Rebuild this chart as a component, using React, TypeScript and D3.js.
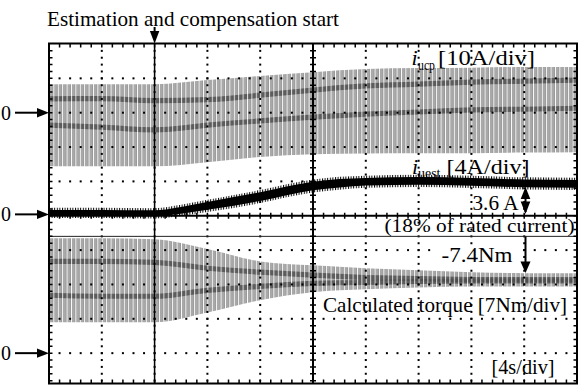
import React from 'react';
import * as d3 from 'd3';

const W = 587;
const H = 386;

// time axis: 4 s/div, 10 divisions
const times = [0, 4, 8, 12, 16, 20, 24, 28, 32, 36, 40];
const startTime = 8;

// i_ucp [10A/div] (A)
const ucpUpper = [8.3, 8.3, 8.3, 9.5, 10.7, 11.8, 12.7, 13.0, 13.1, 13.3, 13.3];
const ucpLower = [-15.6, -15.6, -15.6, -14.4, -12.9, -12.1, -11.9, -11.8, -11.8, -11.6, -11.5];
const ucpBandA = [4.0, 4.1, 3.5, 3.8, 5.1, 6.6, 7.8, 8.3, 8.9, 9.2, 9.5];
const ucpBandB = [-3.6, -4.2, -5.0, -3.6, -2.4, -1.3, -0.4, 0.2, 0.8, 1.0, 1.3];

// i_uest [4A/div] (A)
const uestTimes = [0, 4, 8, 10, 12, 14, 16, 18, 20, 22, 24, 28, 32, 36, 40];
const uestCenter = [0.17, 0.17, 0.12, 0.47, 0.99, 1.51, 2.07, 2.74, 3.3, 3.62, 3.8, 3.9, 3.78, 3.61, 3.55];
const uestHalf = [0.35, 0.35, 0.35, 0.4, 0.45, 0.5, 0.5, 0.5, 0.5, 0.5, 0.45, 0.45, 0.45, 0.45, 0.45];

// calculated torque [7Nm/div] (Nm)
const tqUpper = [23.4, 23.4, 23.2, 21.2, 18.7, 17.9, 17.3, 16.9, 16.5, 16.3, 16.3];
const tqLower = [6.3, 6.3, 6.3, 8.3, 10.8, 12.4, 13.0, 13.4, 13.6, 13.6, 13.6];
const tqBandA = [18.7, 18.7, 18.5, 17.3, 16.5, 15.9, 15.4, 15.2, 15.0, 15.0, 15.0];
const tqBandB = [11.8, 11.6, 11.6, 12.8, 13.6, 14.2, 14.4, 14.6, 14.7, 14.7, 14.7];

// trace zero levels (in divisions from screen centre) and scale per division
const traceZeros = [3, 0.04, -4];
const tracePerDiv = [10, 4, 7];

const FONT = "'Liberation Serif', 'Times New Roman', serif";
const FS = 21;

export default function App() {
  const left = 49, right = 577, top = 43.5, bottom = 383.5;
  const x = d3.scaleLinear().domain([0, 40]).range([left, right]);
  const div = d3.scaleLinear().domain([-5, 5]).range([387.5, 44]);
  const ty = (i: number) => (v: number) => div(traceZeros[i] + v / tracePerDiv[i]);

  const curve = d3.curveMonotoneX;
  const bandArea = (yf: (v: number) => number, ts: number[], up: number[], lo: number[]) =>
    d3.area<number>().curve(curve).x((_, k) => x(ts[k])).y0((_, k) => yf(lo[k])).y1((_, k) => yf(up[k]))(ts) || '';
  const ribbon = (yf: (v: number) => number, ts: number[], c: number[], halfPx: number) =>
    d3.area<number>().curve(curve).x((_, k) => x(ts[k])).y0((_, k) => yf(c[k]) + halfPx).y1((_, k) => yf(c[k]) - halfPx)(ts) || '';

  const y1 = ty(0), y2 = ty(1), y3 = ty(2);

  const uestCore = d3.area<number>().curve(curve)
    .x((_, k) => x(uestTimes[k]))
    .y0((_, k) => y2(uestCenter[k] - uestHalf[k]))
    .y1((_, k) => y2(uestCenter[k] + uestHalf[k]))(uestTimes) || '';
  const uestFuzz = d3.area<number>().curve(curve)
    .x((_, k) => x(uestTimes[k]))
    .y0((_, k) => y2(uestCenter[k] - uestHalf[k]) + 2.2)
    .y1((_, k) => y2(uestCenter[k] + uestHalf[k]) - 2.2)(uestTimes) || '';

  const subX = d3.range(0, 40.001, 0.8);
  const subY = d3.range(-5, 5.001, 0.2);
  const gridT = d3.range(4, 40, 4).filter((t) => t !== 20);
  const gridD = d3.range(-4, 5, 1).filter((d) => d !== 0);

  const dots: JSX.Element[] = [];
  gridD.forEach((d) => {
    subX.forEach((t, j) => {
      if (t > 0 && t < 40) dots.push(<rect key={`h${d}_${j}`} x={x(t) - 1} y={div(d) - 1} width={2} height={2} fill="#000" />);
    });
  });
  gridT.forEach((t) => {
    subY.forEach((d, j) => {
      const yy = div(d);
      if (yy > top + 1 && yy < bottom - 1) dots.push(<rect key={`v${t}_${j}`} x={x(t) - 1} y={yy - 1} width={2} height={2} fill="#000" />);
    });
  });

  const ticks: JSX.Element[] = [];
  subY.forEach((d, j) => {
    const yy = div(d);
    if (yy > top + 1 && yy < bottom - 1) {
      ticks.push(<line key={`tl${j}`} x1={left} x2={left + 3.5} y1={yy} y2={yy} stroke="#000" strokeWidth={1.5} />);
      ticks.push(<line key={`tr${j}`} x1={right - 3.5} x2={right} y1={yy} y2={yy} stroke="#000" strokeWidth={1.5} />);
      ticks.push(<line key={`tc${j}`} x1={x(20) - 3} x2={x(20) + 3} y1={yy} y2={yy} stroke="#000" strokeWidth={1.5} />);
    }
  });
  subX.forEach((t, j) => {
    if (t > 0 && t < 40) {
      ticks.push(<line key={`tt${j}`} x1={x(t)} x2={x(t)} y1={top} y2={top + 4} stroke="#000" strokeWidth={1.5} />);
      ticks.push(<line key={`tb${j}`} x1={x(t)} x2={x(t)} y1={bottom - 4} y2={bottom} stroke="#000" strokeWidth={1.5} />);
      ticks.push(<line key={`tm${j}`} x1={x(t)} x2={x(t)} y1={div(0) - 3} y2={div(0) + 3} stroke="#000" strokeWidth={1.5} />);
    }
  });

  const zeroArrow = (i: number) => {
    const yy = div(traceZeros[i]);
    return (
      <g key={`z${i}`}>
        <text x={1} y={yy + 7} fontFamily={FONT} fontSize={20} fill="#000">0</text>
        <line x1={15} x2={39} y1={yy} y2={yy} stroke="#000" strokeWidth={2} />
        <path d={`M${37},${yy - 4.7}L${left},${yy}L${37},${yy + 4.7}Z`} fill="#000" />
      </g>
    );
  };

  const xs = x(startTime);
  const xa = 525.5;

  return (
    <svg width={W} height={H} style={{ position: 'absolute', left: 0, top: 0, background: '#fff' }}>
      <defs>
        <pattern id="lightStripe" patternUnits="userSpaceOnUse" x={left} y={0} width={4.4} height={10}>
          <rect x={0} y={0} width={4.4} height={10} fill="#999999" />
          <rect x={0} y={0} width={1} height={10} fill="#ffffff" />
          <rect x={2.2} y={0} width={0.8} height={10} fill="#bcbcbc" />
        </pattern>
        <pattern id="darkStripe" patternUnits="userSpaceOnUse" x={left} y={0} width={4.4} height={10}>
          <rect x={0} y={0} width={4.4} height={10} fill="#4a4a4a" />
          <rect x={0} y={0} width={1} height={10} fill="#dddddd" />
        </pattern>
        <pattern id="fuzz" patternUnits="userSpaceOnUse" x={left} y={0} width={2.6} height={10}>
          <rect x={0} y={0} width={1} height={10} fill="#000" />
        </pattern>
        <clipPath id="plotClip">
          <rect x={left} y={top} width={right - left} height={bottom - top} />
        </clipPath>
      </defs>

      <g clipPath="url(#plotClip)">
        {/* i_ucp */}
        <path d={bandArea(y1, times, ucpUpper, ucpLower)} fill="url(#lightStripe)" />
        <path d={ribbon(y1, times, ucpBandA, 2.6)} fill="url(#darkStripe)" opacity={0.8} />
        <path d={ribbon(y1, times, ucpBandB, 2.6)} fill="url(#darkStripe)" opacity={0.8} />

        {/* torque */}
        <path d={bandArea(y3, times, tqUpper, tqLower)} fill="url(#lightStripe)" />
        <path d={ribbon(y3, times, tqBandA, 2.6)} fill="url(#darkStripe)" opacity={0.8} />
        <path d={ribbon(y3, times, tqBandB, 2.6)} fill="url(#darkStripe)" opacity={0.8} />

        {/* i_uest */}
        <path d={uestFuzz} fill="url(#fuzz)" />
        <path d={uestCore} fill="#000" />

        {dots}
        {/* separator */}
        <line x1={left} x2={right} y1={div(-0.6)} y2={div(-0.6)} stroke="#222" strokeWidth={1} />
        {/* center axes */}
        <line x1={left} x2={right} y1={div(0)} y2={div(0)} stroke="#000" strokeWidth={2} />
        <line x1={x(20)} x2={x(20)} y1={top} y2={bottom} stroke="#000" strokeWidth={2} />
        {/* start marker */}
        <line x1={xs} x2={xs} y1={top} y2={bottom} stroke="#000" strokeWidth={1.5} />
        {ticks}
      </g>
      <rect x={left} y={top} width={right - left} height={bottom - top} fill="none" stroke="#000" strokeWidth={2} />

      {/* start annotation */}
      <text x={47} y={26} fontFamily={FONT} fontSize={FS} textLength={292} lengthAdjust="spacingAndGlyphs">Estimation and compensation start</text>
      <line x1={xs} x2={xs} y1={27} y2={33} stroke="#000" strokeWidth={2} />
      <path d={`M${xs - 4.7},${31}L${xs + 4.7},${31}L${xs},${top}Z`} fill="#000" />

      {/* zero markers */}
      {[0, 1, 2].map(zeroArrow)}

      {/* i_ucp label */}
      <text x={411.5} y={65} fontFamily={FONT} fontSize={22} fontStyle="italic">i</text>
      <text x={418} y={69.5} fontFamily={FONT} fontSize={14} textLength={17} lengthAdjust="spacingAndGlyphs">ucp</text>
      <text x={438} y={65} fontFamily={FONT} fontSize={FS} textLength={97} lengthAdjust="spacingAndGlyphs">[10A/div]</text>

      {/* i_uest label */}
      <text x={412} y={173.5} fontFamily={FONT} fontSize={22} fontStyle="italic">i</text>
      <text x={418} y={177.5} fontFamily={FONT} fontSize={14} textLength={22.5} lengthAdjust="spacingAndGlyphs">uest</text>
      <text x={446.5} y={173.5} fontFamily={FONT} fontSize={FS} textLength={83} lengthAdjust="spacingAndGlyphs">[4A/div]</text>

      {/* 3.6 A annotation */}
      <text x={472.5} y={210} fontFamily={FONT} fontSize={20} textLength={46} lengthAdjust="spacingAndGlyphs">3.6 A</text>
      <line x1={xa} x2={xa} y1={190} y2={212} stroke="#000" strokeWidth={2} />
      <path d={`M${xa - 4.8},${199}L${xa + 4.8},${199}L${xa},${187}Z`} fill="#000" />
      <path d={`M${xa - 4.8},${201.5}L${xa + 4.8},${201.5}L${xa},${214}Z`} fill="#000" />
      <text x={384.5} y={231.5} fontFamily={FONT} fontSize={19} textLength={190} lengthAdjust="spacingAndGlyphs">(18% of rated current)</text>

      {/* -7.4Nm annotation */}
      <rect x={437} y={246} width={84} height={19} fill="#fff" />
      <text x={441.5} y={262} fontFamily={FONT} fontSize={FS} textLength={71} lengthAdjust="spacingAndGlyphs">-7.4Nm</text>
      <line x1={xa} x2={xa} y1={236.5} y2={264} stroke="#000" strokeWidth={2} />
      <path d={`M${xa - 5},${261.5}L${xa + 5},${261.5}L${xa},${273}Z`} fill="#000" />

      <text x={323} y={312} fontFamily={FONT} fontSize={FS} textLength={244} lengthAdjust="spacingAndGlyphs">Calculated torque [7Nm/div]</text>
      <text x={491.5} y={374} fontFamily={FONT} fontSize={FS} textLength={63} lengthAdjust="spacingAndGlyphs">[4s/div]</text>
    </svg>
  );
}
